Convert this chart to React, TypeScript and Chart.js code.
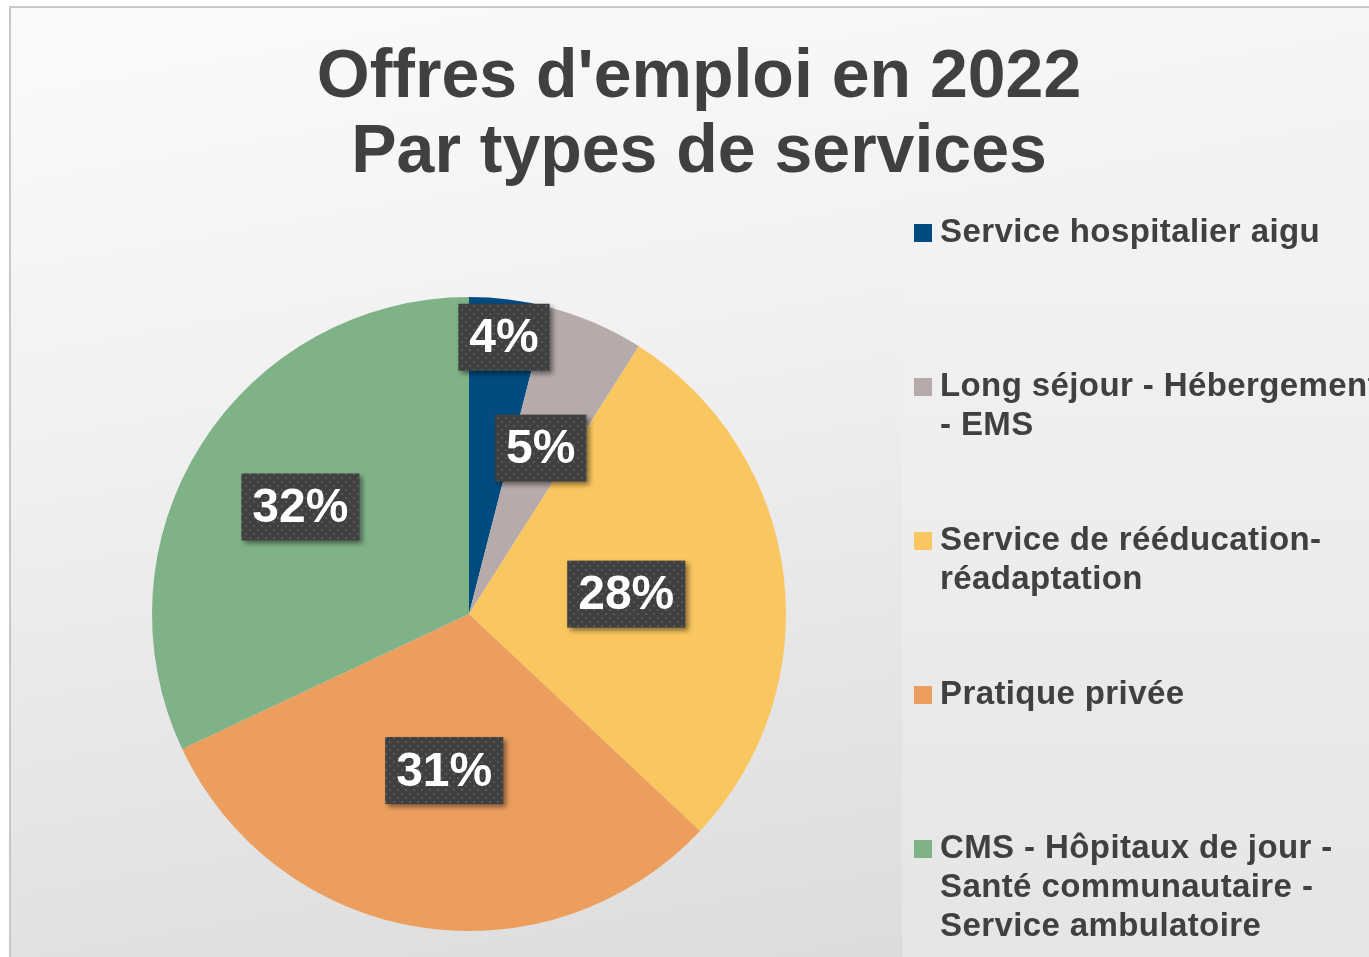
import React, { useEffect, useRef } from "react";
import { Chart, registerables } from "chart.js";

Chart.register(...registerables);

const titleLines = ["Offres d'emploi en 2022", "Par types de services"];
const categories = [
  ["Service hospitalier aigu"],
  ["Long séjour - Hébergement", "- EMS"],
  ["Service de rééducation-", "réadaptation"],
  ["Pratique privée"],
  ["CMS - Hôpitaux de jour -", "Santé communautaire -", "Service ambulatoire"],
];
const shares = [4, 5, 28, 31, 32];
const sliceColors = ["#004b7f", "#b6aaaa", "#f9c65f", "#eb9e5e", "#80b288"];
const labelRadius = [0.88, 0.57, 0.5, 0.5, 0.63];

const FONT = '"Liberation Sans", Arial, sans-serif';

function makeDotPattern(ctx: CanvasRenderingContext2D) {
  const c = document.createElement("canvas");
  c.width = 8;
  c.height = 8;
  const p = c.getContext("2d")!;
  p.fillStyle = "#404040";
  p.fillRect(0, 0, 8, 8);
  p.fillStyle = "#585858";
  p.fillRect(1, 1, 2, 2);
  p.fillRect(5, 5, 2, 2);
  return ctx.createPattern(c, "repeat");
}

const decorPlugin = {
  id: "decor",
  beforeDraw(chart: any) {
    const ctx: CanvasRenderingContext2D = chart.ctx;
    ctx.save();
    const g = ctx.createLinearGradient(0, 192, 0, 957);
    g.addColorStop(0, "#f3f3f3");
    g.addColorStop(1, "#e5e5e5");
    ctx.fillStyle = g;
    ctx.fillRect(902, 192, 1369 - 902, 957 - 192);
    ctx.fillStyle = "#404040";
    ctx.font = `bold 68px ${FONT}`;
    ctx.textAlign = "center";
    ctx.textBaseline = "alphabetic";
    titleLines.forEach((t, i) => ctx.fillText(t, 699, 97 + i * 75));
    ctx.restore();
  },
  afterDatasetsDraw(chart: any) {
    const ctx: CanvasRenderingContext2D = chart.ctx;
    const meta = chart.getDatasetMeta(0);
    const pattern = makeDotPattern(ctx);
    ctx.save();
    ctx.font = `bold 48px ${FONT}`;
    ctx.textAlign = "center";
    ctx.textBaseline = "middle";
    meta.data.forEach((arc: any, i: number) => {
      const { x, y, startAngle, endAngle, outerRadius } = arc.getProps(
        ["x", "y", "startAngle", "endAngle", "outerRadius"],
        true
      );
      const mid = (startAngle + endAngle) / 2;
      const r = outerRadius * labelRadius[i];
      const cx = x + Math.cos(mid) * r;
      const cy = y + Math.sin(mid) * r;
      const text = `${shares[i]}%`;
      const w = ctx.measureText(text).width + 22;
      const h = 67;
      ctx.save();
      ctx.shadowColor = "rgba(0,0,0,0.45)";
      ctx.shadowBlur = 5;
      ctx.shadowOffsetX = 3;
      ctx.shadowOffsetY = 3;
      ctx.fillStyle = pattern || "#404040";
      ctx.fillRect(cx - w / 2, cy - h / 2, w, h);
      ctx.restore();
      ctx.fillStyle = "#ffffff";
      ctx.fillText(text, cx, cy + 2);
    });
    ctx.restore();
  },
  afterDraw(chart: any) {
    const ctx: CanvasRenderingContext2D = chart.ctx;
    ctx.save();
    ctx.font = `bold 33px ${FONT}`;
    (ctx as any).letterSpacing = "0.4px";
    ctx.textAlign = "left";
    ctx.textBaseline = "alphabetic";
    categories.forEach((lines, i) => {
      const base = 242 + i * 154;
      ctx.fillStyle = sliceColors[i];
      ctx.fillRect(914, base - 18, 18, 18);
      ctx.fillStyle = "#404040";
      lines.forEach((ln, j) => ctx.fillText(ln, 940, base + j * 39));
    });
    ctx.restore();
  },
};

export default function App() {
  const ref = useRef<HTMLCanvasElement>(null);
  useEffect(() => {
    if (!ref.current) return;
    const chart = new Chart(ref.current, {
      type: "pie",
      data: {
        labels: categories.map((l) => l.join(" ")),
        datasets: [
          {
            data: shares,
            backgroundColor: sliceColors,
            borderWidth: 0,
          },
        ],
      },
      options: {
        responsive: false,
        animation: false,
        devicePixelRatio: 1,
        layout: { padding: { left: 152, right: 1369 - 786, top: 297, bottom: 957 - 931 } },
        plugins: {
          legend: { display: false },
          title: { display: false },
          tooltip: { enabled: false },
        },
      },
      plugins: [decorPlugin],
    });
    return () => chart.destroy();
  }, []);

  return (
    <div
      style={{
        position: "fixed",
        left: 0,
        top: 0,
        width: 1369,
        height: 957,
        overflow: "hidden",
        background: "#ffffff",
      }}
    >
      <div
        style={{
          position: "absolute",
          left: 9,
          top: 6,
          width: 1400,
          height: 1000,
          boxSizing: "border-box",
          border: "2px solid #c8c8c8",
          background: "linear-gradient(170deg, #fbfbfb 0%, #f1f1f1 35%, #d8d8d8 100%)",
        }}
      />
      <canvas
        ref={ref}
        width={1369}
        height={957}
        style={{ position: "absolute", left: 0, top: 0, width: 1369, height: 957 }}
      />
    </div>
  );
}
